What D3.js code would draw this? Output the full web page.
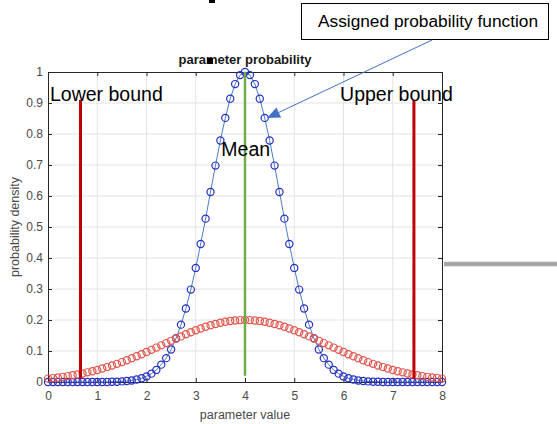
<!DOCTYPE html>
<html>
<head>
<meta charset="utf-8">
<script src="https://cdn.jsdelivr.net/npm/d3@7"></script>
<style>
  body { margin: 0; background: #fff; }
  svg { display: block; font-family: Arial, "Liberation Sans", sans-serif; }
</style>
</head>
<body>
<svg id="chart" width="557" height="424"></svg>
<script>
// sample positions (parameter value)
const xSamples = [
  0, 0.1, 0.2, 0.3, 0.4, 0.5, 0.6, 0.7, 0.8, 0.9,
  1, 1.1, 1.2, 1.3, 1.4, 1.5, 1.6, 1.7, 1.8, 1.9,
  2, 2.1, 2.2, 2.3, 2.4, 2.5, 2.6, 2.7, 2.8, 2.9,
  3, 3.1, 3.2, 3.3, 3.4, 3.5, 3.6, 3.7, 3.8, 3.9,
  4,
  4.1, 4.2, 4.3, 4.4, 4.5, 4.6, 4.7, 4.8, 4.9, 5,
  5.1, 5.2, 5.3, 5.4, 5.5, 5.6, 5.7, 5.8, 5.9, 6,
  6.1, 6.2, 6.3, 6.4, 6.5, 6.6, 6.7, 6.8, 6.9, 7,
  7.1, 7.2, 7.3, 7.4, 7.5, 7.6, 7.7, 7.8, 7.9, 8
]

// narrow (assigned) probability function, blue
const assignedValues = [
  0, 0, 0, 0, 0, 0, 0, 0, 0, 0,
  0, 0, 0, 0.001, 0.001, 0.002, 0.003, 0.005, 0.008, 0.012,
  0.018, 0.027, 0.039, 0.056, 0.077, 0.105, 0.141, 0.185, 0.237, 0.298,
  0.368, 0.445, 0.527, 0.613, 0.698, 0.779, 0.852, 0.914, 0.961, 0.990,
  1.000,
  0.990, 0.961, 0.914, 0.852, 0.779, 0.698, 0.613, 0.527, 0.445, 0.368,
  0.298, 0.237, 0.185, 0.141, 0.105, 0.077, 0.056, 0.039, 0.027, 0.018,
  0.012, 0.008, 0.005, 0.003, 0.002, 0.001, 0.001, 0, 0, 0,
  0, 0, 0, 0, 0, 0, 0, 0, 0, 0
]

// wide distribution, red
const wideValues = [
  0.0109, 0.0126, 0.0145, 0.0166, 0.0190, 0.0216, 0.0245, 0.0276, 0.0311, 0.0348,
  0.0389, 0.0434, 0.0481, 0.0532, 0.0585, 0.0642, 0.0702, 0.0764, 0.0830, 0.0897,
  0.0967, 0.1037, 0.1110, 0.1182, 0.1255, 0.1328, 0.1401, 0.1471, 0.1539, 0.1605,
  0.1667, 0.1726, 0.1780, 0.1830, 0.1873, 0.1911, 0.1943, 0.1968, 0.1986, 0.1996,
  0.2000,
  0.1996, 0.1986, 0.1968, 0.1943, 0.1911, 0.1873, 0.1830, 0.1780, 0.1726, 0.1667,
  0.1605, 0.1539, 0.1471, 0.1401, 0.1328, 0.1255, 0.1182, 0.1110, 0.1037, 0.0967,
  0.0897, 0.0830, 0.0764, 0.0702, 0.0642, 0.0585, 0.0532, 0.0481, 0.0434, 0.0389,
  0.0348, 0.0311, 0.0276, 0.0245, 0.0216, 0.0190, 0.0166, 0.0145, 0.0126, 0.0109
]

// vertical reference lines: [x, yBottom, yTop]
const lowerBound = [0.66, 0.01, 0.91]
const upperBound = [7.43, 0.01, 0.91]
const meanLine = [4, 0.02, 1]

const xTicks = [0, 1, 2, 3, 4, 5, 6, 7, 8]
const yTicks = [0, 0.1, 0.2, 0.3, 0.4, 0.5, 0.6, 0.7, 0.8, 0.9, 1]

const margin = { top: 72, right: 115, bottom: 42, left: 48 }
const width = 557
const height = 424
const innerW = width - margin.left - margin.right
const innerH = height - margin.top - margin.bottom

const xScale = d3.scaleLinear().domain([0, 8]).range([0, innerW])
const yScale = d3.scaleLinear().domain([0, 1]).range([innerH, 0])

const svg = d3.select('#chart')

const chart = svg.append('g')
  .attr('transform', `translate(${margin.left}, ${margin.top})`)

// grid
chart.append('g').selectAll('line')
    .data(xTicks.slice(1, -1))
  .enter().append('line')
    .attr('x1', d => xScale(d)).attr('x2', d => xScale(d))
    .attr('y1', 0).attr('y2', innerH)
    .attr('stroke', '#e3e3e3').attr('stroke-width', 1)

chart.append('g').selectAll('line')
    .data(yTicks.slice(1, -1))
  .enter().append('line')
    .attr('x1', 0).attr('x2', innerW)
    .attr('y1', d => yScale(d)).attr('y2', d => yScale(d))
    .attr('stroke', '#e3e3e3').attr('stroke-width', 1)

// axes, matlab style: ticks inside, box on
const fmt = d => d === 0 || d === 1 ? String(d) : d3.format('.1f')(d)

const styleAxis = g => {
  g.select('.domain').attr('stroke', '#262626').attr('stroke-width', 1)
  g.selectAll('.tick line').attr('stroke', '#262626')
  g.selectAll('text').attr('fill', '#4a4a4a').style('font-size', '12px')
    .style('font-family', 'Arial, "Liberation Sans", sans-serif')
}

chart.append('g')
  .attr('transform', `translate(0, ${innerH})`)
  .call(d3.axisBottom(xScale).tickValues(xTicks).tickSizeInner(-4).tickSizeOuter(0).tickPadding(9))
  .call(styleAxis)

chart.append('g')
  .call(d3.axisLeft(yScale).tickValues(yTicks).tickFormat(fmt).tickSizeInner(-4).tickSizeOuter(0).tickPadding(5))
  .call(styleAxis)

chart.append('g')
  .call(d3.axisTop(xScale).tickValues(xTicks).tickFormat('').tickSizeInner(-4).tickSizeOuter(0))
  .call(styleAxis)

chart.append('g')
  .attr('transform', `translate(${innerW}, 0)`)
  .call(d3.axisRight(yScale).tickValues(yTicks).tickFormat('').tickSizeInner(-4).tickSizeOuter(0))
  .call(styleAxis)

// blue curve: line + circles
const line = d3.line()
  .x((d, i) => xScale(xSamples[i]))
  .y(d => yScale(d))

chart.append('path')
  .datum(assignedValues)
  .attr('d', line)
  .attr('fill', 'none')
  .attr('stroke', '#4a7ec4')
  .attr('stroke-width', 1)

chart.append('g').selectAll('circle')
    .data(assignedValues)
  .enter().append('circle')
    .attr('cx', (d, i) => xScale(xSamples[i]))
    .attr('cy', d => yScale(d))
    .attr('r', 3.6)
    .attr('fill', 'none')
    .attr('stroke', '#2630c0')
    .attr('stroke-width', 1.2)

// red curve: circles only
chart.append('g').selectAll('circle')
    .data(wideValues)
  .enter().append('circle')
    .attr('cx', (d, i) => xScale(xSamples[i]))
    .attr('cy', d => yScale(d))
    .attr('r', 3.6)
    .attr('fill', 'none')
    .attr('stroke', '#e0554c')
    .attr('stroke-width', 1.2)

// bounds and mean
chart.selectAll('.bound')
    .data([lowerBound, upperBound])
  .enter().append('line')
    .attr('class', 'bound')
    .attr('x1', d => xScale(d[0])).attr('x2', d => xScale(d[0]))
    .attr('y1', d => yScale(d[1])).attr('y2', d => yScale(d[2]))
    .attr('stroke', '#c00000')
    .attr('stroke-width', 3)

chart.append('line')
  .attr('x1', xScale(meanLine[0])).attr('x2', xScale(meanLine[0]))
  .attr('y1', yScale(meanLine[1])).attr('y2', yScale(meanLine[2]))
  .attr('stroke', '#70ad47')
  .attr('stroke-width', 2.5)

// labels inside the plot
const bigLabel = (text, x, y) => chart.append('text')
  .attr('x', xScale(x)).attr('y', yScale(y))
  .attr('fill', '#000')
  .style('font-size', '19.5px')
  .text(text)

bigLabel('Lower bound', 0.04, 0.905)
bigLabel('Upper bound', 5.93, 0.905)
bigLabel('Mean', 3.52, 0.728)

// title + axis labels
svg.append('text')
  .attr('x', margin.left + xScale(4)).attr('y', 64)
  .attr('text-anchor', 'middle')
  .style('font-size', '13px').style('font-weight', 'bold')
  .attr('fill', '#1a1a1a')
  .text('parameter probability')

// stray black marks from the screenshot
svg.append('rect').attr('x', 207).attr('y', 58).attr('width', 6).attr('height', 6).attr('fill', '#000')
svg.append('rect').attr('x', 209).attr('y', 0).attr('width', 6).attr('height', 3).attr('fill', '#000')

svg.append('text')
  .attr('x', margin.left + xScale(4)).attr('y', 419)
  .attr('text-anchor', 'middle')
  .style('font-size', '12.5px')
  .attr('fill', '#4a4a4a')
  .text('parameter value')

svg.append('text')
  .attr('transform', `translate(19, ${margin.top + innerH / 2}) rotate(-90)`)
  .attr('text-anchor', 'middle')
  .style('font-size', '12.5px')
  .attr('fill', '#4a4a4a')
  .text('probability density')

// callout box + arrow
svg.append('rect')
  .attr('x', 301.5).attr('y', 3.5).attr('width', 247).attr('height', 36)
  .attr('fill', '#fff').attr('stroke', '#000').attr('stroke-width', 1)

svg.append('text')
  .attr('x', 428).attr('y', 27)
  .attr('text-anchor', 'middle')
  .style('font-size', '17.3px')
  .attr('fill', '#000')
  .text('Assigned probability function')

const ax0 = 432, ay0 = 40, ax1 = 267, ay1 = 118
const ang = Math.atan2(ay1 - ay0, ax1 - ax0)
const headLen = 13, headW = 5.5
const bx = ax1 - headLen * Math.cos(ang), by = ay1 - headLen * Math.sin(ang)

svg.append('line')
  .attr('x1', ax0).attr('y1', ay0).attr('x2', bx).attr('y2', by)
  .attr('stroke', '#4472c4').attr('stroke-width', 1)

svg.append('path')
  .attr('d', `M${ax1},${ay1} L${bx - headW * Math.sin(ang)},${by + headW * Math.cos(ang)} L${bx + headW * Math.sin(ang)},${by - headW * Math.cos(ang)} Z`)
  .attr('fill', '#4472c4')

// gray connector stub on the right
svg.append('line')
  .attr('x1', 444).attr('x2', 557).attr('y1', 264).attr('y2', 264)
  .attr('stroke', '#a6a6a6').attr('stroke-width', 4.5)
</script>
</body>
</html>
